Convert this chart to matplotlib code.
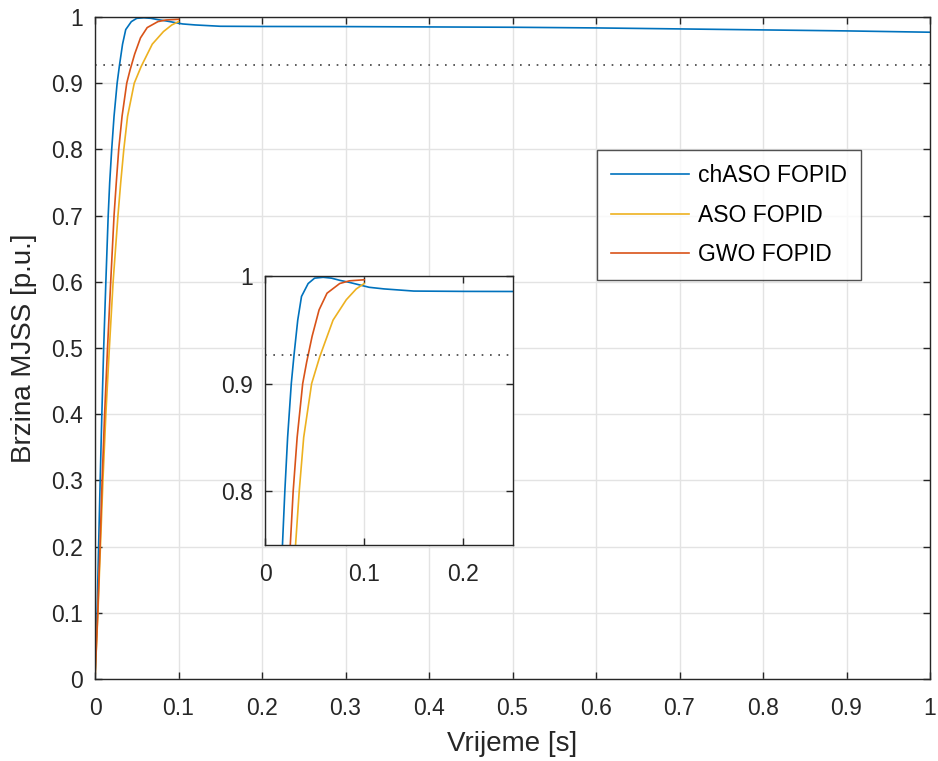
import matplotlib
matplotlib.use("Agg")
import matplotlib.pyplot as plt

plt.rcParams['font.family'] = ['Liberation Sans', 'DejaVu Sans']

# ---- data ----
t_chaso = [0, 0.0025, 0.0043, 0.0062, 0.0082, 0.0104, 0.0130, 0.0158, 0.0176, 0.0200,
           0.0228, 0.0265, 0.0293, 0.0330, 0.0368, 0.0435, 0.0500, 0.0586, 0.0670,
           0.0753, 0.0854, 0.0954, 0.105, 0.120, 0.150, 0.200, 0.300, 0.400, 0.500,
           0.600, 0.700, 0.800, 0.900, 1.000]
y_chaso = [0, 0.1, 0.2, 0.3, 0.4, 0.5, 0.6, 0.7, 0.75, 0.8,
           0.85, 0.9, 0.927, 0.959, 0.981, 0.993, 0.998, 0.9988, 0.998,
           0.996, 0.994, 0.9917, 0.9895, 0.988, 0.986, 0.9857, 0.9855, 0.985, 0.9845,
           0.9835, 0.982, 0.9805, 0.979, 0.977]

t_aso = [0, 0.0035, 0.0065, 0.0095, 0.0130, 0.0172, 0.0217, 0.0275, 0.0308, 0.0345,
         0.0390, 0.0470, 0.0552, 0.0602, 0.0686, 0.0820, 0.0920, 0.1000]
y_aso = [0, 0.1, 0.2, 0.3, 0.4, 0.5, 0.6, 0.7, 0.75, 0.8,
         0.85, 0.9, 0.925, 0.9377, 0.959, 0.978, 0.988, 0.993]

t_gwo = [0, 0.0033, 0.0060, 0.0085, 0.0115, 0.0150, 0.0188, 0.0228, 0.0255, 0.0284,
         0.0324, 0.0380, 0.0420, 0.0475, 0.0545, 0.0625, 0.0753, 0.0850, 0.1000]
y_gwo = [0, 0.1, 0.2, 0.3, 0.4, 0.5, 0.6, 0.7, 0.75, 0.8,
         0.85, 0.9, 0.92, 0.944, 0.9685, 0.984, 0.993, 0.9955, 0.9965]

labels = ["chASO FOPID", "ASO FOPID", "GWO FOPID"]
ref_level = 0.927
top_level = 1.0
top_span = [0, 0.1]

main_xticks = [0, 0.1, 0.2, 0.3, 0.4, 0.5, 0.6, 0.7, 0.8, 0.9, 1]
main_yticks = [0, 0.1, 0.2, 0.3, 0.4, 0.5, 0.6, 0.7, 0.8, 0.9, 1]
inset_xticks = [0, 0.1, 0.2]
inset_yticks = [0.8, 0.9, 1]

c_blue = "#0072BD"
c_orange = "#D95319"
c_yellow = "#EDB120"
axc = "#262626"
gridc = "#e3e3e3"
dotc = "#404040"


def fmt(v):
    return "%g" % v


def style(ax, xt, yt, fs):
    ax.set_xticks(xt)
    ax.set_yticks(yt)
    ax.set_xticklabels([fmt(v) for v in xt])
    ax.set_yticklabels([fmt(v) for v in yt])
    ax.grid(True, color=gridc, linewidth=1.0)
    ax.set_axisbelow(True)
    ax.tick_params(direction='in', top=True, right=True, length=5, width=1.0,
                   colors=axc, labelsize=fs)
    ax.tick_params(axis='x', pad=13)
    ax.tick_params(axis='y', pad=9)
    for s in ax.spines.values():
        s.set_color(axc)
        s.set_linewidth(1.0)


fig = plt.figure(figsize=(9.38, 7.61), dpi=100)
ax = fig.add_axes([95/938, 1-679/761, 835/938, 662/761])

ax.plot(t_chaso, y_chaso, color=c_blue, lw=1.2, label=labels[0])
ax.plot(t_aso, y_aso, color=c_yellow, lw=1.2, label=labels[1])
ax.plot(t_gwo, y_gwo, color=c_orange, lw=1.2, label=labels[2])
ax.plot([0, 1], [ref_level, ref_level], color=dotc, lw=1.2, ls=(0, (1, 4)))
ax.plot(top_span, [top_level, top_level], color=dotc, lw=1.2, ls=(0, (1, 4)))
ax.set_xlim(0, 1)
ax.set_ylim(0, 1)
style(ax, main_xticks, main_yticks, 16.5)
ax.set_xlabel("Vrijeme [s]", fontsize=20, color=axc, labelpad=8)
ax.set_ylabel("Brzina MJSS [p.u.]", fontsize=20, color=axc, labelpad=10)

leg = ax.legend(loc='upper left', bbox_to_anchor=(0.601, 0.799), fontsize=16.5,
                frameon=True, fancybox=False, edgecolor=axc, handlelength=3.4,
                labelspacing=0.71, borderpad=0.62, handletextpad=0.4,
                borderaxespad=0)
leg.get_frame().set_linewidth(1.0)

ins = fig.add_axes([265/938, 1-545/761, 248/938, 269/761])
ins.plot(t_chaso, y_chaso, color=c_blue, lw=1.2)
ins.plot(t_aso, y_aso, color=c_yellow, lw=1.2)
ins.plot(t_gwo, y_gwo, color=c_orange, lw=1.2)
ins.plot([0, 1], [ref_level, ref_level], color=dotc, lw=1.2, ls=(0, (1, 4)))
ins.plot(top_span, [top_level, top_level], color=dotc, lw=1.2, ls=(0, (1, 4)))
ins.set_xlim(0, 0.25)
ins.set_ylim(0.75, 1.0)
style(ins, inset_xticks, inset_yticks, 16.5)

fig.savefig("out.png", dpi=100)
